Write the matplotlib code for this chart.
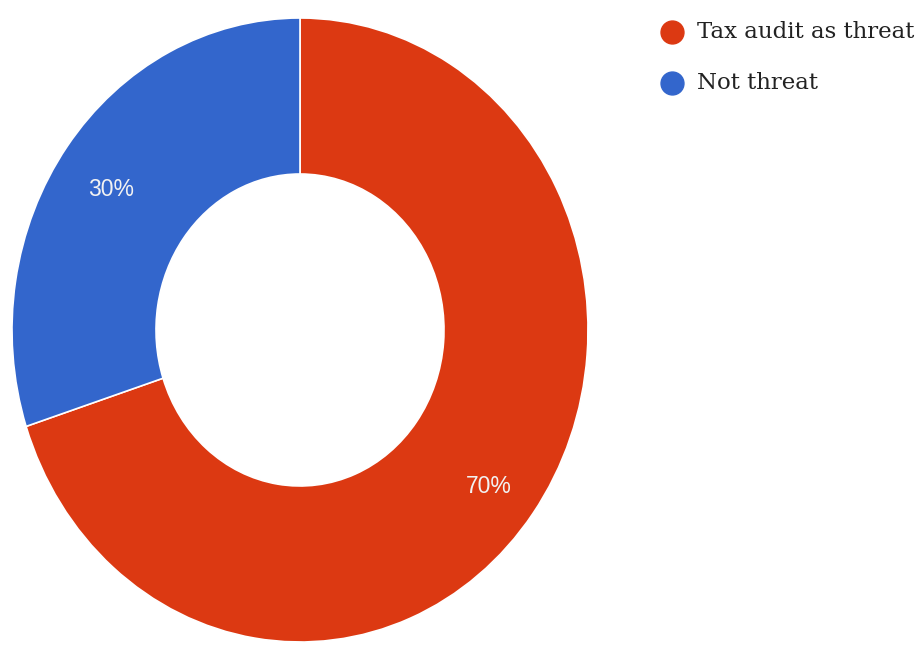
import matplotlib
matplotlib.use("Agg")
import matplotlib.pyplot as plt
from matplotlib.transforms import offset_copy

labels = ["Tax audit as threat", "Not threat"]
values = [70, 30]
colors = ["#DC3912", "#3366CC"]

W, H = 921, 648
fig = plt.figure(figsize=(W / 100, H / 100), dpi=100)
fig.patch.set_facecolor("white")

# donut axes (slightly taller than wide, as in the reference)
left_px, right_px, top_px, bot_px = 12, 588, 18, 642
ax = fig.add_axes([left_px / W, (H - bot_px) / H,
                   (right_px - left_px) / W, (bot_px - top_px) / H])
wedges, texts, autotexts = ax.pie(
    values, colors=colors, startangle=90, counterclock=False,
    radius=1.0, autopct="%1.0f%%", pctdistance=0.81,
    wedgeprops=dict(width=0.5, edgecolor="white", linewidth=1.2),
    textprops=dict(color="white", fontsize=16.5, family="Liberation Sans"))
shifted = offset_copy(ax.transData, fig=fig, x=0, y=-8, units="dots")
for t in autotexts:
    t.set_color("#f2f2f2")
    t.set_transform(shifted)
ax.set_xlim(-1.0, 1.0)
ax.set_ylim(-1.0, 1.0)
ax.set_aspect("auto")
ax.axis("off")

# legend drawn in a pixel-coordinate overlay
lax = fig.add_axes([0, 0, 1, 1], facecolor="none")
lax.set_xlim(0, W)
lax.set_ylim(H, 0)
lax.axis("off")
marker_x, text_x, first_y, step = 672, 697, 32, 51
for i, (lab, col) in enumerate(zip(labels, colors)):
    y = first_y + i * step
    lax.plot([marker_x], [y], linestyle="none", marker="o", markersize=16.5,
             markerfacecolor=col, markeredgecolor=col)
    lax.text(text_x, y, lab, ha="left", va="center", color="#222222",
             family="DejaVu Serif", fontsize=16.5)

fig.savefig("out.png", dpi=100, facecolor="white")
